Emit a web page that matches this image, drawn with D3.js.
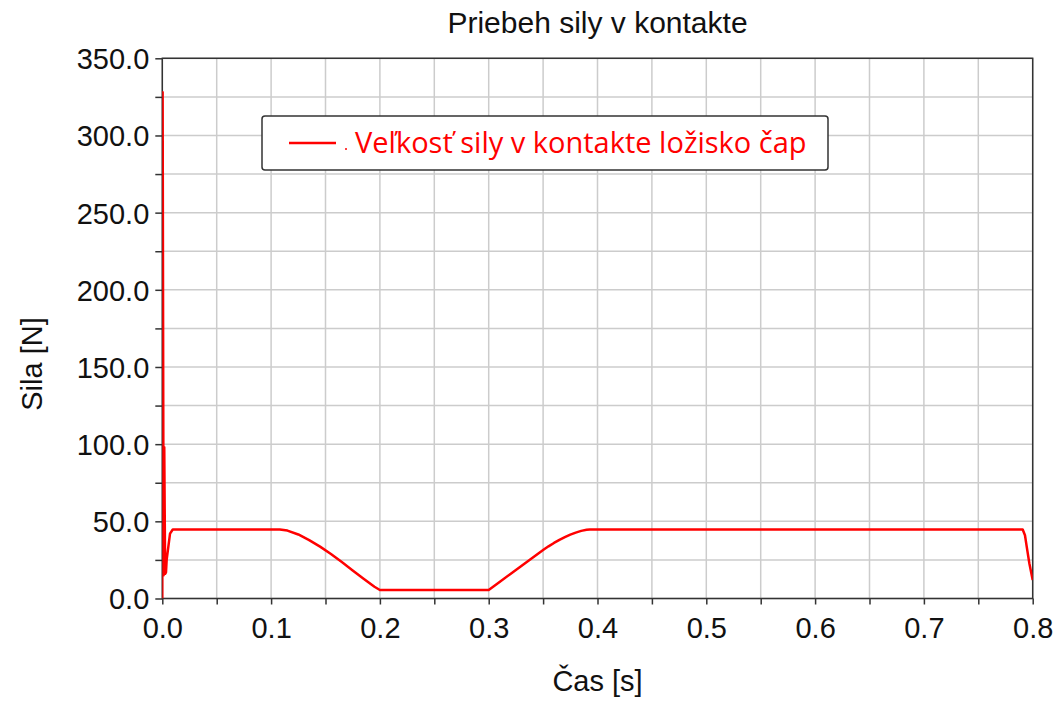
<!DOCTYPE html>
<html>
<head>
<meta charset="utf-8">
<script src="https://cdn.jsdelivr.net/npm/d3@7"></script>
<style>
  body { margin: 0; background: #fff; }
  svg { display: block; }
</style>
</head>
<body>
<svg id="chart" width="1061" height="707"></svg>
<script>
// force in contact vs time
var timeValues = [0, 0.0003, 0.0012, 0.0018, 0.0026, 0.0034, 0.004, 0.0071, 0.0096,
  0.108, 0.115, 0.125, 0.135, 0.145, 0.155, 0.165, 0.175, 0.185, 0.195, 0.2,
  0.3, 0.31, 0.32, 0.33, 0.34, 0.35, 0.355, 0.36, 0.365, 0.37, 0.375, 0.38, 0.385, 0.39, 0.393,
  0.7908, 0.7929, 0.7945, 0.7969, 0.8];
var forceValues = [0, 328, 15, 98, 16, 17, 25, 42, 44.7,
  44.7, 44.0, 41.5, 37.8, 33.6, 28.8, 23.6, 18.2, 12.8, 7.6, 5.5,
  5.5, 10.7, 15.9, 21.1, 26.3, 31.4, 33.8, 36.0, 38.0, 39.8, 41.4, 42.7, 43.8, 44.5, 44.7,
  44.7, 41, 33.6, 22.8, 12];

var xTickLabels = [0, 0.1, 0.2, 0.3, 0.4, 0.5, 0.6, 0.7, 0.8];
var yTickLabels = [0, 50, 100, 150, 200, 250, 300, 350];
var xGrid = d3.range(0, 0.8001, 0.05);
var yGrid = d3.range(0, 350.01, 25);

var titleText = "Priebeh sily v kontakte";
var xTitle = "Čas [s]";
var yTitle = "Sila [N]";
var legendText = "Veľkosť sily v kontakte ložisko čap";

// plot box (pixels)
var plotL = 162.3, plotR = 1032.7, plotT = 58.3, plotB = 598.5;
var font = "Liberation Sans, Arial, sans-serif";

var svg = d3.select("#chart");

var x = d3.scaleLinear().domain([0, 0.8]).range([plotL, plotR]);
var y = d3.scaleLinear().domain([0, 350]).range([plotB, plotT]);

// grid
svg.append("g").selectAll("line").data(xGrid).enter().append("line")
  .attr("x1", function(d) { return x(d); }).attr("x2", function(d) { return x(d); })
  .attr("y1", plotT).attr("y2", plotB)
  .attr("stroke", "#cccccc").attr("stroke-width", 1.5);
svg.append("g").selectAll("line").data(yGrid).enter().append("line")
  .attr("y1", function(d) { return y(d); }).attr("y2", function(d) { return y(d); })
  .attr("x1", plotL).attr("x2", plotR)
  .attr("stroke", "#cccccc").attr("stroke-width", 1.5);

// axes
var xAxis = d3.axisBottom(x).tickValues(xGrid).tickSize(6)
  .tickFormat(function(d) { return xTickLabels.some(function(v) { return Math.abs(v - d) < 1e-9; }) ? d3.format(".1f")(d) : ""; });
var yAxis = d3.axisLeft(y).tickValues(yGrid).tickSize(7)
  .tickFormat(function(d) { return yTickLabels.indexOf(d) >= 0 ? d3.format(".1f")(d) : ""; });

var gx = svg.append("g").attr("transform", "translate(0," + plotB + ")").call(xAxis);
var gy = svg.append("g").attr("transform", "translate(" + plotL + ",0)").call(yAxis);

[gx, gy].forEach(function(g) {
  g.select(".domain").remove();
  g.selectAll("line").attr("stroke", "#333").attr("stroke-width", 1.5);
  g.selectAll("text").attr("font-family", font)
    .attr("font-size", 29).attr("fill", "#111");
});
gx.selectAll("text").attr("dy", null).attr("y", 39);
gy.selectAll("text").attr("x", -13).attr("dy", "0.36em");

// frame
svg.append("rect").attr("x", plotL).attr("y", plotT)
  .attr("width", plotR - plotL).attr("height", plotB - plotT)
  .attr("fill", "none").attr("stroke", "#333").attr("stroke-width", 1.5);

// data line
var pts = timeValues.map(function(t, i) { return [t, forceValues[i]]; });
svg.append("clipPath").attr("id", "clip").append("rect")
  .attr("x", plotL).attr("y", plotT).attr("width", plotR - plotL).attr("height", plotB - plotT);
svg.append("path").datum(pts)
  .attr("clip-path", "url(#clip)")
  .attr("d", d3.line().x(function(d) { return x(d[0]); }).y(function(d) { return y(d[1]); }))
  .attr("fill", "none").attr("stroke", "#ff0000").attr("stroke-width", 2.5)
  .attr("stroke-linejoin", "round");

// titles
svg.append("text").attr("x", (plotL + plotR) / 2).attr("y", 33)
  .attr("text-anchor", "middle").attr("font-family", font)
  .attr("font-size", 30).attr("fill", "#111").text(titleText);
svg.append("text").attr("x", (plotL + plotR) / 2).attr("y", 691)
  .attr("text-anchor", "middle").attr("font-family", font)
  .attr("font-size", 29).attr("fill", "#111").text(xTitle);
svg.append("text").attr("transform", "translate(42,364) rotate(-90)")
  .attr("text-anchor", "middle").attr("font-family", font)
  .attr("font-size", 29).attr("fill", "#111").text(yTitle);

// legend
var lg = svg.append("g");
lg.append("rect").attr("x", 262).attr("y", 116).attr("width", 566).attr("height", 54)
  .attr("rx", 3).attr("fill", "#fff").attr("stroke", "#333").attr("stroke-width", 1.5);
lg.append("line").attr("x1", 289).attr("x2", 336).attr("y1", 143).attr("y2", 143)
  .attr("stroke", "#ff0000").attr("stroke-width", 2.5);
lg.append("circle").attr("cx", 346).attr("cy", 149).attr("r", 1).attr("fill", "#ff0000");
lg.append("text").attr("x", 355).attr("y", 153)
  .attr("font-family", "Open Sans, sans-serif").attr("font-size", 29)
  .attr("fill", "#ff0000").text(legendText);
</script>
</body>
</html>
